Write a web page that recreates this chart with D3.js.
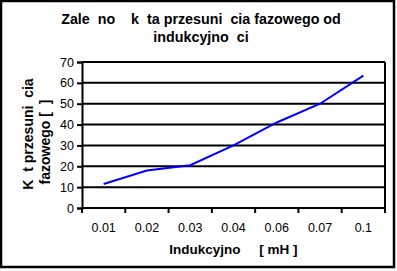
<!DOCTYPE html>
<html>
<head>
<meta charset="utf-8">
<script src="https://cdn.jsdelivr.net/npm/d3@7"></script>
<style>
	body { margin: 0; background: #fff; }
	svg { display: block; font-family: "Liberation Sans", Arial, sans-serif; }
</style>
</head>
<body>
<svg width="397" height="271"></svg>
<script>
// values
const categories = ['0.01', '0.02', '0.03', '0.04', '0.06', '0.07', '0.1'];
const angles = [11.5, 18, 20.5, 30, 41, 50, 63.5];
const yTicks = [0, 10, 20, 30, 40, 50, 60, 70];
const titleLines = ['Zale  no    k  ta przesuni  cia fazowego od', 'indukcyjno  ci'];
const yTitleLines = ['K  t przesuni  cia', 'fazowego [  ]'];
const xTitle = 'Indukcyjno     [ mH ]';

let svg = d3.select("svg"),
		width = +svg.attr("width"),
		height = +svg.attr("height");

const plot = { left: 82, right: 385, top: 62, bottom: 208 };

// outer frame
svg.append("rect")
	.attr("x", 1).attr("y", 1)
	.attr("width", 393).attr("height", 266)
	.attr("fill", "none")
	.attr("stroke", "#000")
	.attr("stroke-width", 2.5);

const x = d3.scaleBand()
	.domain(categories)
	.range([plot.left, plot.right]);

const y = d3.scaleLinear()
	.domain([0, 70])
	.range([plot.bottom, plot.top]);

// gridlines
svg.append("g")
	.selectAll("line")
	.data(yTicks.filter(d => d > 0))
	.enter().append("line")
		.attr("x1", plot.left)
		.attr("x2", plot.right)
		.attr("y1", d => y(d))
		.attr("y2", d => y(d))
		.attr("stroke", "#000")
		.attr("stroke-width", 2);

// right edge of plot area
svg.append("line")
	.attr("x1", plot.right).attr("x2", plot.right)
	.attr("y1", plot.top).attr("y2", plot.bottom)
	.attr("stroke", "#000")
	.attr("stroke-width", 2);

const yAxis = svg.append("g")
	.attr("transform", `translate(${plot.left},0)`)
	.call(d3.axisLeft(y).tickValues(yTicks).tickSize(5).tickPadding(3));

const xAxis = svg.append("g")
	.attr("transform", `translate(0,${plot.bottom})`)
	.call(d3.axisBottom(x).tickSize(0).tickPadding(15));

// category boundary ticks
const bounds = categories.map(c => x(c)).concat([plot.right]);
svg.append("g")
	.selectAll("line")
	.data(bounds)
	.enter().append("line")
		.attr("x1", d => d).attr("x2", d => d)
		.attr("y1", plot.bottom).attr("y2", plot.bottom + 5)
		.attr("stroke", "#000")
		.attr("stroke-width", 2);

[yAxis, xAxis].forEach(g => {
	g.select(".domain").attr("stroke", "#000").attr("stroke-width", 2);
	g.selectAll(".tick line").attr("stroke", "#000").attr("stroke-width", 2);
	g.selectAll("text")
		.attr("font-size", 12.5)
		.attr("font-family", "Liberation Sans, Arial, sans-serif")
		.attr("fill", "#000");
});
xAxis.select(".domain").attr("d", `M${plot.left},0H${plot.right}`);

// data line
const line = d3.line()
	.x((d, i) => x(categories[i]) + x.bandwidth() / 2)
	.y(d => y(d));

svg.append("path")
	.datum(angles)
	.attr("d", line)
	.attr("fill", "none")
	.attr("stroke", "#0000ff")
	.attr("stroke-width", 2);

// titles
svg.append("g")
	.selectAll("text")
	.data(titleLines)
	.enter().append("text")
		.attr("x", 201)
		.attr("y", (d, i) => 24 + i * 18)
		.attr("text-anchor", "middle")
		.attr("font-size", 14.3)
		.attr("font-weight", "bold")
		.style("white-space", "pre")
		.text(d => d);

svg.append("g")
	.selectAll("text")
	.data(yTitleLines)
	.enter().append("text")
		.attr("transform", (d, i) => `translate(${33 + i * 17},${134 + i * 8}) rotate(-90)`)
		.attr("text-anchor", "middle")
		.attr("font-size", 14)
		.attr("font-weight", "bold")
		.style("white-space", "pre")
		.text(d => d);

svg.append("text")
	.attr("x", (plot.left + plot.right) / 2)
	.attr("y", 254)
	.attr("text-anchor", "middle")
	.attr("font-size", 13.5)
	.attr("font-weight", "bold")
	.style("white-space", "pre")
	.text(xTitle);
</script>
</body>
</html>
